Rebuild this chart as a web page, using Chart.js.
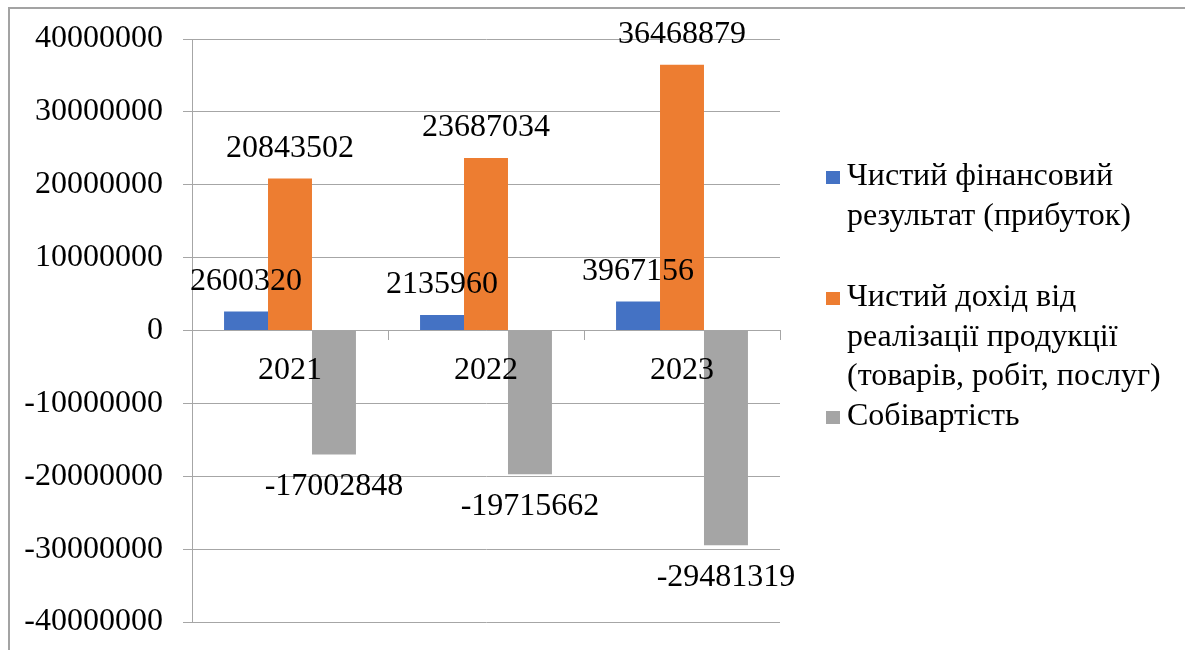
<!DOCTYPE html>
<html lang="uk">
<head>
<meta charset="utf-8">
<title>Фінансові показники 2021–2023</title>
<script src="https://cdn.jsdelivr.net/npm/chart.js@4.4.1/dist/chart.umd.min.js"></script>
<style>
  html, body { margin: 0; padding: 0; background: #ffffff; }
  #wrap { position: relative; width: 1185px; height: 650px; overflow: hidden; }
  #frame {
    position: absolute; left: 8px; top: 7px; width: 1180px; height: 660px;
    border-left: 2px solid #a3a3a3; border-top: 2px solid #a3a3a3;
    box-sizing: border-box; pointer-events: none;
  }
  canvas { position: absolute; left: 0; top: 0; }
</style>
</head>
<body>
<div id="wrap">
  <canvas id="chart" width="1185" height="650"></canvas>
  <div id="frame"></div>
</div>
<script>
// Роки звітності
const years = ['2021', '2022', '2023'];

// Показники, грн
const netProfit = [2600320, 2135960, 3967156];
const netRevenue = [20843502, 23687034, 36468879];
const costOfSales = [-17002848, -19715662, -29481319];

// Назви рядів (легенда, по рядках)
const seriesNames = [
  ['Чистий фінансовий', 'результат (прибуток)'],
  ['Чистий дохід від', 'реалізації продукції', '(товарів, робіт, послуг)'],
  ['Собівартість']
];

// Поділки осі значень
const axisMin = -40000000;
const axisMax = 40000000;
const axisStep = 10000000;

const seriesColors = ['#4472C4', '#ED7D31', '#A5A5A5'];
const gridColor = '#a6a6a6';
const FONT = "'Liberation Serif', 'Times New Roman', serif";

Chart.defaults.font.family = FONT;
Chart.defaults.font.size = 32;
Chart.defaults.color = '#000000';

// Підписи значень над/під стовпцями
const valueLabels = {
  id: 'valueLabels',
  afterDatasetsDraw(chart) {
    const ctx = chart.ctx;
    ctx.save();
    ctx.font = '32px ' + FONT;
    ctx.fillStyle = '#000000';
    ctx.textAlign = 'center';
    ctx.textBaseline = 'middle';
    chart.data.datasets.forEach((ds, di) => {
      const meta = chart.getDatasetMeta(di);
      meta.data.forEach((bar, i) => {
        const v = ds.data[i];
        const y = v >= 0 ? bar.y - 30 : bar.y + 32;
        ctx.fillText(String(v), bar.x, y);
      });
    });
    ctx.restore();
  }
};

// Легенда праворуч від області побудови
const sideLegend = {
  id: 'sideLegend',
  afterDraw(chart) {
    const ctx = chart.ctx;
    const area = chart.chartArea;
    const boxX = area.right + 46;
    const textX = area.right + 67;
    const lineH = 39.5;
    const entryTops = [177, 298, 417];
    ctx.save();
    ctx.font = '32px ' + FONT;
    ctx.fillStyle = '#000000';
    ctx.textAlign = 'left';
    ctx.textBaseline = 'middle';
    seriesNames.forEach((lines, k) => {
      const y0 = entryTops[k];
      ctx.fillStyle = seriesColors[k];
      ctx.fillRect(boxX, y0 - 6, 14, 13);
      ctx.fillStyle = '#000000';
      lines.forEach((t, j) => ctx.fillText(t, textX, y0 + j * lineH));
    });
    ctx.restore();
  }
};

new Chart(document.getElementById('chart'), {
  type: 'bar',
  data: {
    labels: years,
    datasets: [
      { label: seriesNames[0].join(' '), data: netProfit, backgroundColor: seriesColors[0] },
      { label: seriesNames[1].join(' '), data: netRevenue, backgroundColor: seriesColors[1] },
      { label: seriesNames[2].join(' '), data: costOfSales, backgroundColor: seriesColors[2] }
    ]
  },
  options: {
    responsive: false,
    animation: false,
    layout: { padding: { left: 0, right: 405, top: 39, bottom: 28 } },
    datasets: {
      bar: { barPercentage: 1.0, categoryPercentage: 0.673, borderWidth: 0 }
    },
    plugins: {
      legend: { display: false },
      tooltip: { enabled: false }
    },
    scales: {
      x: {
        position: { y: 0 },
        afterFit(scale) {
          scale.height = 0;
          scale.paddingTop = 0; scale.paddingBottom = 0;
          scale.paddingLeft = 0; scale.paddingRight = 0;
        },
        grid: {
          drawOnChartArea: false,
          drawTicks: true,
          tickLength: 9,
          color: gridColor,
          offset: true
        },
        border: { display: true, color: gridColor, width: 1 },
        ticks: { padding: 12, maxRotation: 0, z: 1, font: { size: 32 } }
      },
      y: {
        min: axisMin,
        max: axisMax,
        afterFit(scale) {
          scale.width = 192;
          scale.paddingTop = 0; scale.paddingBottom = 0;
        },
        grid: { color: gridColor, lineWidth: 1, tickLength: 9 },
        border: { display: true, color: gridColor, width: 1 },
        ticks: {
          stepSize: axisStep,
          padding: 20,
          font: { size: 32 },
          callback: (v) => String(v)
        }
      }
    }
  },
  plugins: [valueLabels, sideLegend]
});
</script>
</body>
</html>
